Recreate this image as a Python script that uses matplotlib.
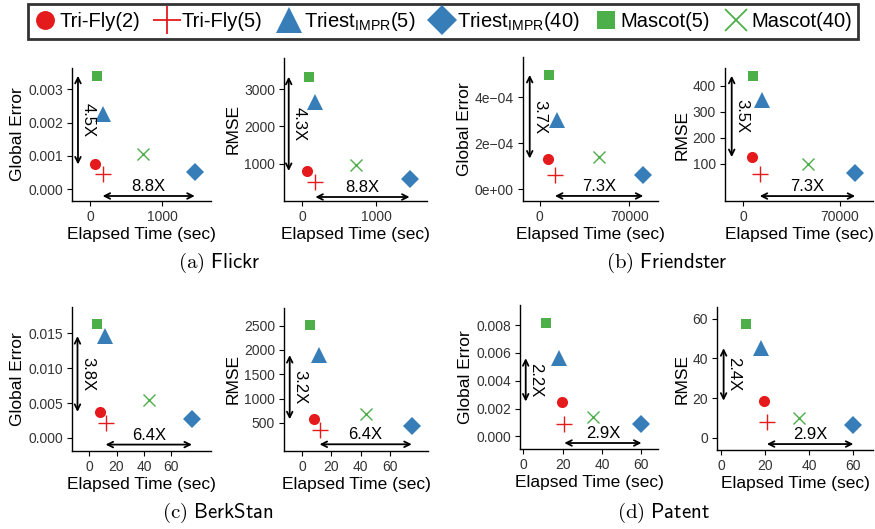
import matplotlib
matplotlib.use('Agg')
import matplotlib.pyplot as plt
from matplotlib.lines import Line2D

plt.rcParams['font.family'] = ['Liberation Sans', 'DejaVu Sans']
plt.rcParams['mathtext.fontset'] = 'custom'
plt.rcParams['mathtext.rm'] = 'Liberation Sans'

METHODS = ['Tri-Fly(2)', 'Tri-Fly(5)', r'Triest$_{\mathrm{IMPR}}$(5)',
           r'Triest$_{\mathrm{IMPR}}$(40)', 'Mascot(5)', 'Mascot(40)']
MARKERS = ['o', '+', '^', 'D', 's', 'x']
SIZES = [8, 12, 11, 9, 7.5, 9]
COLORS = ['#E41A1C', '#E41A1C', '#377EB8', '#377EB8', '#4DAF4A', '#4DAF4A']

# order: Tri-Fly(2), Tri-Fly(5), TriestIMPR(5), TriestIMPR(40), Mascot(5), Mascot(40)
flickr_time = [66, 175, 175, 1455, 92, 734]
flickr_global = [0.00074, 0.00044, 0.00225, 0.00052, 0.00341, 0.00105]
flickr_rmse = [800, 503, 2665, 595, 3340, 954]

friendster_time = [6300, 11900, 13500, 81000, 7300, 46700]
friendster_global = [1.34e-4, 0.61e-4, 3.01e-4, 0.64e-4, 4.98e-4, 1.41e-4]
friendster_rmse = [125, 61, 344, 65, 438, 100]

berkstan_time = [7.9, 12, 11.6, 75, 5.4, 43.6]
berkstan_global = [0.00374, 0.00216, 0.0146, 0.00279, 0.01634, 0.00542]
berkstan_rmse = [575, 348, 1895, 431, 2513, 693]

patent_time = [19.4, 20.8, 18, 60, 11.5, 35.3]
patent_global = [0.00251, 0.00089, 0.00562, 0.00089, 0.00813, 0.00143]
patent_rmse = [18.7, 8.1, 45.2, 6.4, 57.4, 9.8]

error_ratio = ['4.5X', '4.3X', '3.7X', '3.5X', '3.8X', '3.2X', '2.2X', '2.4X']
speed_ratio = ['8.8X', '8.8X', '7.3X', '7.3X', '6.4X', '6.4X', '2.9X', '2.9X']

W, H = 875, 529

# (time, error, ylabel, axes box px (l, t, r, b), xlim, ylim, xticks, yticks, ytick labels,
#  arrow x, arrow y, index of top point for vertical arrow)
panels = [
    (flickr_time, flickr_global, 'Global Error', (72, 68, 211, 201), (-250, 1681), (-0.000361, 0.003645),
     [0, 1000], [0, 0.001, 0.002, 0.003], ['0.000', '0.001', '0.002', '0.003'], -167, -0.00021, 4),
    (flickr_time, flickr_rmse, 'RMSE', (284, 58, 427, 201), (-251, 1692), (-11, 3846),
     [0, 1000], [1000, 2000, 3000], ['1000', '2000', '3000'], -187, 97, 4),
    (friendster_time, friendster_global, 'Global Error', (523, 57, 658, 201), (-13090, 92500), (-0.51e-4, 5.76e-4),
     [0, 70000], [0, 2e-4, 4e-4], ['0e+00', '2e\u221204', '4e\u221204'], -7840, -0.29e-4, 4),
    (friendster_time, friendster_rmse, 'RMSE', (725, 68, 873, 201), (-13250, 93900), (-44, 468),
     [0, 70000], [100, 200, 300, 400], ['100', '200', '300', '400'], -8400, -25, 4),
    (berkstan_time, berkstan_global, 'Global Error', (72, 307, 211, 451), (-12.5, 88.9), (-0.00187, 0.01878),
     [0, 20, 40, 60], [0, 0.005, 0.010, 0.015], ['0.000', '0.005', '0.010', '0.015'], -8.5, -0.00095, 2),
    (berkstan_time, berkstan_rmse, 'RMSE', (284, 308, 428, 451), (-12.3, 86.1), (-78, 2864),
     [0, 20, 40, 60], [500, 1000, 1500, 2000, 2500], ['500', '1000', '1500', '2000', '2500'], -8.4, 60, 2),
    (patent_time, patent_global, 'Global Error', (520, 305, 658, 449), (-1.7, 68.4), (-0.0009, 0.00944),
     [0, 20, 40, 60], [0, 0.002, 0.004, 0.006, 0.008], ['0.000', '0.002', '0.004', '0.006', '0.008'], 1.2, -0.00047, 2),
    (patent_time, patent_rmse, 'RMSE', (717, 307, 873, 450), (-1.8, 68.9), (-6.2, 66.0),
     [0, 20, 40, 60], [0, 20, 40, 60], ['0', '20', '40', '60'], 1.2, -3.2, 2),
]

fig = plt.figure(figsize=(W / 100, H / 100), dpi=100)

arrow_props = dict(arrowstyle='<->', lw=1.3, color='black', shrinkA=0, shrinkB=0, mutation_scale=10)

for i, (t, err, ylabel, box, xlim, ylim, xt, yt, ytl, ax_x, ax_y, top) in enumerate(panels):
    l, tp, r, b = box
    ax = fig.add_axes([l / W, 1 - b / H, (r - l) / W, (b - tp) / H])
    for j in range(len(METHODS)):
        filled = MARKERS[j] not in ('+', 'x')
        ax.plot(t[j], err[j], marker=MARKERS[j], ms=SIZES[j], color=COLORS[j], linestyle='none',
                mew=1.0 if not filled else 0, zorder=3)
    ax.set_xlim(*xlim)
    ax.set_ylim(*ylim)
    ax.set_xticks(xt)
    ax.set_xticklabels([str(v) for v in xt])
    ax.set_yticks(yt)
    ax.set_yticklabels(ytl)
    for s in ('top', 'right'):
        ax.spines[s].set_visible(False)
    for s in ('left', 'bottom'):
        ax.spines[s].set_linewidth(1.0)
    ax.tick_params(length=3.5, width=0.8, labelsize=10, labelcolor='#333333', pad=3)
    ax.set_xlabel('Elapsed Time (sec)', fontsize=12.5, labelpad=2)
    ax.set_ylabel(ylabel, fontsize=12.5, labelpad=2)
    ax.patch.set_alpha(0)

    # vertical arrow: error gap
    lo, hi = err[0], err[top]
    ax.annotate('', xy=(ax_x, hi), xytext=(ax_x, lo), arrowprops=arrow_props)
    ax.annotate(error_ratio[i], xy=(ax_x, (lo + hi) / 2), xytext=(10, 0), textcoords='offset pixels',
                rotation=270, ha='center', va='center', fontsize=12)
    # horizontal arrow: speed gap
    x0, x1 = t[1], t[3]
    ax.annotate('', xy=(x1, ax_y), xytext=(x0, ax_y), arrowprops=arrow_props)
    ax.annotate(speed_ratio[i], xy=((x0 + x1) / 2, ax_y), xytext=(0, 2), textcoords='offset pixels',
                ha='center', va='bottom', fontsize=12)

captions = [('(a)', 'Flickr', 219, 263), ('(b)', 'Friendster', 667, 263),
            ('(c)', 'BerkStan', 218, 513), ('(d)', 'Patent', 664, 513)]
for tag, name, cx, cy in captions:
    fig.text(cx / W, 1 - cy / H, r'$\mathrm{%s}$ $\mathsf{%s}$' % (tag, name), ha='center', va='center',
             fontsize=15, math_fontfamily='cm')

handles = []
for j in range(len(METHODS)):
    filled = MARKERS[j] not in ('+', 'x')
    handles.append(Line2D([], [], marker=MARKERS[j], ms=SIZES[j] * 1.7, color=COLORS[j], linestyle='none',
                          mew=1.3 if not filled else 0))
leg = fig.legend(handles, METHODS, loc='center', bbox_to_anchor=(443 / W, 1 - 21.5 / H), ncol=6,
                 fontsize=14.5, frameon=True, fancybox=False, handlelength=1.1, handletextpad=0.2,
                 columnspacing=0.75, borderpad=0.3, borderaxespad=0)
leg.get_frame().set_edgecolor('black')
leg.get_frame().set_linewidth(2.0)

plt.savefig('out.png', dpi=100)
